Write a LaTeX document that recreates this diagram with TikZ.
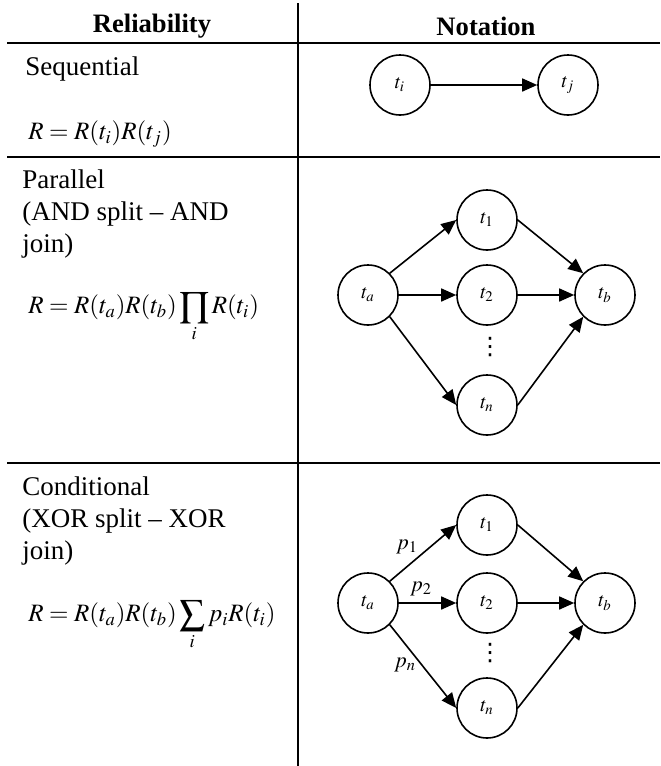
\documentclass[tikz,border=0pt]{standalone}
\usepackage{mathptmx}
\usepackage[no-math]{fontspec}
\setmainfont{Liberation Serif}
\newfontfamily\dejavu{DejaVu Sans}
\usetikzlibrary{arrows.meta}
\begin{document}
\begin{tikzpicture}[x=0.5pt,y=-0.5pt,
  rule/.style={line width=0.8pt},
  task/.style={circle, draw, line width=0.8pt, minimum size=30pt, inner sep=0pt, font=\fontsize{10}{11}\selectfont},
  flow/.style={line width=0.8pt, -{Triangle[length=7.5pt,width=6.5pt]}},
  body/.style={anchor=west, align=left, font=\fontsize{13.5}{16}\selectfont, inner sep=0pt},
  formula/.style={anchor=west, font=\fontsize{12.5}{15}\selectfont, inner sep=0pt},
  head/.style={font=\fontsize{13.3}{15}\selectfont\bfseries, inner sep=0pt},
  dots/.style={font=\dejavu\fontsize{12}{12}\selectfont, inner sep=0pt},
  plabel/.style={font=\fontsize{11}{12}\selectfont, inner sep=0pt}]
\useasboundingbox (0,0) rectangle (660,766);

% table rules
\coordinate (vtop) at (298,3);
\coordinate (vbot) at (298,766);
\draw[rule] (vtop) -- (vbot);
\coordinate (h1l) at (7,43);  \coordinate (h1r) at (660,43);
\coordinate (h2l) at (7,157); \coordinate (h2r) at (660,157);
\coordinate (h3l) at (7,463); \coordinate (h3r) at (660,463);
\draw[rule] (h1l) -- (h1r);
\draw[rule] (h2l) -- (h2r);
\draw[rule] (h3l) -- (h3r);

% headers
\node[head] (hrel) at (152,26) {Reliability};
\node[head] (hnot) at (486,26) {Notation};

% left column texts
\node[body] (seqtxt) at (25,69) {Sequential};
\node[formula] (seqf) at (28,134) {$R = R(t_i)R(t_j)$};

\node[body] (partxt) at (22,214) {Parallel\\(AND split -- AND\\join)};
\node[formula] (parf) at (28,317) {$\displaystyle R = R(t_a)R(t_b)\prod_i R(t_i)$};

\node[body] (contxt) at (22,521) {Conditional\\(XOR split -- XOR\\join)};
\node[formula] (conf) at (28,625) {$\displaystyle R = R(t_a)R(t_b)\sum_i p_i R(t_i)$};

% sequential
\node[task] (seqi) at (400,85) {$t_i$};
\node[task] (seqj) at (568,85) {$t_j$};
\draw[flow] (seqi) -- (seqj);

% parallel
\node[task] (pa) at (368,295) {$t_a$};
\node[task] (p1) at (487,220) {$t_1$};
\node[task] (p2) at (487,295) {$t_2$};
\node[task] (pn) at (487,405) {$t_n$};
\node[task] (pb) at (605,295) {$t_b$};
\node[dots] (pdots) at (490,347) {⋮};
\draw[flow] (pa.45) -- (p1.west);
\draw[flow] (pa.east) -- (p2.west);
\draw[flow] (pa.-45) -- (pn.west);
\draw[flow] (p1.east) -- (pb.135);
\draw[flow] (p2.east) -- (pb.west);
\draw[flow] (pn.east) -- (pb.-135);

% conditional
\node[task] (ca) at (368,603) {$t_a$};
\node[task] (c1) at (487,525) {$t_1$};
\node[task] (c2) at (487,603) {$t_2$};
\node[task] (cn) at (487,708) {$t_n$};
\node[task] (cb) at (605,603) {$t_b$};
\node[dots] (cdots) at (490,653) {⋮};
\draw[flow] (ca.45) -- (c1.west);
\draw[flow] (ca.east) -- (c2.west);
\draw[flow] (ca.-45) -- (cn.west);
\draw[flow] (c1.east) -- (cb.135);
\draw[flow] (c2.east) -- (cb.west);
\draw[flow] (cn.east) -- (cb.-135);
\node[plabel] (lp1) at (407,547) {$p_1$};
\node[plabel] (lp2) at (421,589) {$p_2$};
\node[plabel] (lpn) at (405,665) {$p_n$};
\end{tikzpicture}
\end{document}
